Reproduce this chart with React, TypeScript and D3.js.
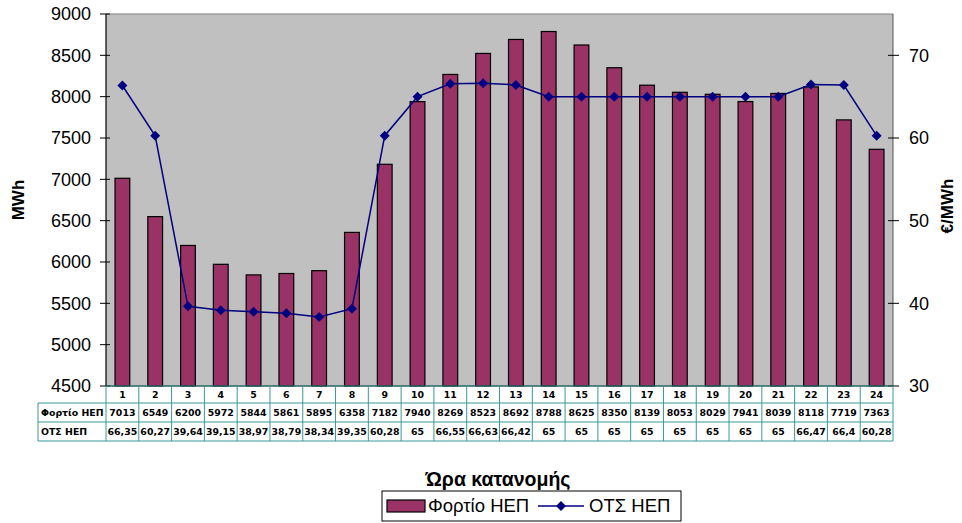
import React from "react";
import * as d3 from "d3";

const hours = ["1","2","3","4","5","6","7","8","9","10","11","12","13","14","15","16","17","18","19","20","21","22","23","24"];
const load = [7013,6549,6200,5972,5844,5861,5895,6358,7182,7940,8269,8523,8692,8788,8625,8350,8139,8053,8029,7941,8039,8118,7719,7363];
const price = [66.35,60.27,39.64,39.15,38.97,38.79,38.34,39.35,60.28,65,66.55,66.63,66.42,65,65,65,65,65,65,65,65,66.47,66.4,60.28];
const leftTicks = [4500,5000,5500,6000,6500,7000,7500,8000,8500,9000];
const rightTicks = [30,40,50,60,70];
const seriesNames = ["Φορτίο ΗΕΠ", "ΟΤΣ ΗΕΠ"];

const W = 962, H = 523;
const L = 106, R = 893, T = 14, B = 386;

export default function App() {
  const x = d3.scaleBand<string>().domain(hours).range([L, R]).paddingInner(0.55).paddingOuter(0.275);
  const xc = d3.scaleBand<string>().domain(hours).range([L, R]);
  const yL = d3.scaleLinear().domain([4500, 9000]).range([B, T]);
  const yR = d3.scaleLinear().domain([30, 75]).range([B, T]);
  const line = d3.line<number>().x((_, i) => xc(hours[i])! + xc.bandwidth() / 2).y((d) => yR(d));
  const fmt = (v: number) => String(v).replace(".", ",");
  const font = "Liberation Sans, Arial, sans-serif";
  const tfont = "DejaVu Sans, Verdana, sans-serif";
  const teal = "#3a9898";
  const rowY = [386, 403, 422, 441];
  const cw = xc.bandwidth();
  return (
    <svg width={W} height={H} style={{ position: "absolute", left: 0, top: 0 }}>
      <rect x={0} y={0} width={W} height={H} fill="#fff" />
      <rect x={L} y={T} width={R - L} height={B - T} fill="#C0C0C0" />
      <line x1={L} y1={T} x2={R} y2={T} stroke="#808080" strokeWidth={1} />
      <line x1={R} y1={T} x2={R} y2={B} stroke="#555" strokeWidth={1} />
      {hours.map((h, i) => (
        <rect key={h} x={x(h)} y={yL(load[i])} width={x.bandwidth()} height={B - yL(load[i])}
          fill="#993366" stroke="#000" strokeWidth={1.2} />
      ))}
      <path d={line(price)!} fill="none" stroke="#000080" strokeWidth={1.5} />
      {price.map((p, i) => {
        const cx = xc(hours[i])! + cw / 2, cy = yR(p), s = 5;
        return <path key={i} d={`M${cx},${cy - s}L${cx + s},${cy}L${cx},${cy + s}L${cx - s},${cy}Z`} fill="#000080" />;
      })}
      <line x1={L} y1={T} x2={L} y2={B} stroke="#000" strokeWidth={1.2} />
      <line x1={L} y1={B} x2={R} y2={B} stroke="#000" strokeWidth={1.2} />
      {leftTicks.map((t) => (
        <g key={t}>
          <line x1={L - 6} x2={L + 4} y1={yL(t)} y2={yL(t)} stroke="#000" />
          <text x={91} y={yL(t)} dy="0.35em" textAnchor="end" fontFamily={font} fontSize={18}>{t}</text>
        </g>
      ))}
      {rightTicks.map((t) => (
        <g key={t}>
          <line x1={R - 5} x2={R + 6} y1={yR(t)} y2={yR(t)} stroke="#000" />
          <text x={909} y={yR(t)} dy="0.35em" textAnchor="start" fontFamily={font} fontSize={18}>{t}</text>
        </g>
      ))}
      <text transform="translate(24,200) rotate(-90)" textAnchor="middle" fontFamily={font} fontSize={17} fontWeight="bold">MWh</text>
      <text transform="translate(953,206) rotate(-90)" textAnchor="middle" fontFamily={font} fontSize={17} fontWeight="bold">€/MWh</text>
      {/* data table */}
      <g fontFamily={tfont} fontSize={9.4} fontWeight="bold">
        <line x1={L} x2={R} y1={rowY[0]} y2={rowY[0]} stroke={teal} />
        <line x1={38} x2={R} y1={rowY[1]} y2={rowY[1]} stroke={teal} />
        <line x1={38} x2={R} y1={rowY[2]} y2={rowY[2]} stroke={teal} />
        <line x1={38} x2={R} y1={rowY[3]} y2={rowY[3]} stroke={teal} />
        <line x1={38} x2={38} y1={rowY[1]} y2={rowY[3]} stroke={teal} />
        {hours.map((h) => (
          <line key={"v" + h} x1={xc(h)} x2={xc(h)} y1={rowY[0]} y2={rowY[3]} stroke={teal} />
        ))}
        <line x1={R} x2={R} y1={rowY[0]} y2={rowY[3]} stroke={teal} />
        {hours.map((h, i) => {
          const cx = xc(h)! + cw / 2;
          return (
            <g key={"t" + h}>
              <text x={cx} y={394.5} dy="0.35em" textAnchor="middle">{h}</text>
              <text x={cx} y={412.5} dy="0.35em" textAnchor="middle">{load[i]}</text>
              <text x={cx} y={431.5} dy="0.35em" textAnchor="middle">{fmt(price[i])}</text>
            </g>
          );
        })}
        <text x={41} y={412.5} dy="0.35em">{seriesNames[0]}</text>
        <text x={41} y={431.5} dy="0.35em">{seriesNames[1]}</text>
      </g>
      <text x={498} y={486} textAnchor="middle" fontFamily={font} fontSize={19.5} fontWeight="bold">Ώρα κατανομής</text>
      <rect x={382} y={491} width={299} height={30} fill="#fff" stroke="#000" strokeWidth={1} />
      <rect x={387} y={500} width={38} height={12} fill="#993366" stroke="#000" strokeWidth={1.2} />
      <text x={428} y={506} dy="0.35em" fontFamily={font} fontSize={18.5}>{seriesNames[0]}</text>
      <line x1={538} x2={584} y1={506} y2={506} stroke="#000080" strokeWidth={1.5} />
      <path d="M561,501L566,506L561,511L556,506Z" fill="#000080" />
      <text x={589} y={506} dy="0.35em" fontFamily={font} fontSize={18.5}>{seriesNames[1]}</text>
    </svg>
  );
}
